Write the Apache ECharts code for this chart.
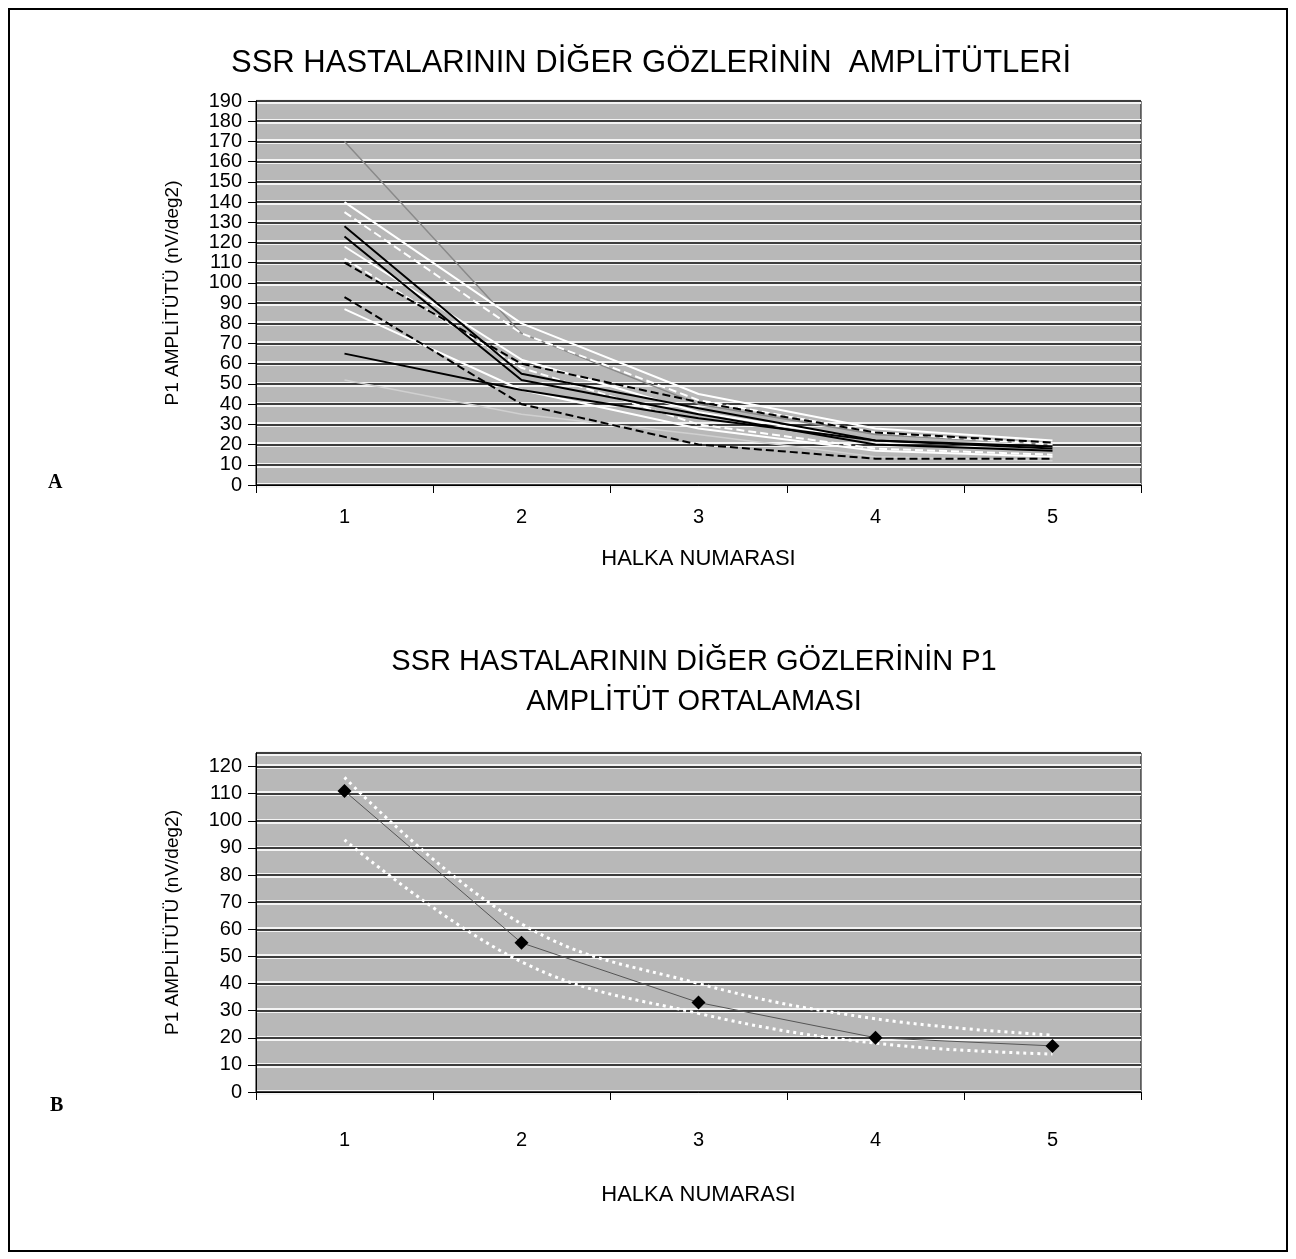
<!DOCTYPE html>
<html>
<head>
<meta charset="utf-8">
<script src="https://cdn.jsdelivr.net/npm/echarts@6/dist/echarts.min.js"></script>
<style>
  html, body { margin: 0; padding: 0; background: #fff; }
  .chart { width: 1296px; height: 1259px; }
</style>
</head>
<body>
<div class="page"><div class="chart"></div></div>
<script>
// halka numaralari (x ekseni)
var rings = ["1", "2", "3", "4", "5"];

// A: her gozun P1 amplitudu
var eyeGrey1 = [170, 75, 40, 25, 20];
var eyeGrey2 = [52, 35, 25, 14, 12];
var eyeWhite1 = [140, 80, 45, 28, 22];
var eyeWhite2 = [135, 75, 42, 26, 20];
var eyeWhite3 = [118, 62, 36, 22, 18];
var eyeWhite4 = [112, 58, 30, 18, 15];
var eyeWhite5 = [87, 47, 28, 17, 14];
var eyeBlack1 = [128, 55, 38, 22, 19];
var eyeBlack2 = [123, 52, 35, 20, 17];
var eyeBlack3 = [110, 60, 41, 26, 21];
var eyeBlack4 = [93, 40, 20, 13, 13];
var eyeBlack5 = [65, 47, 33, 22, 18];

// B: ortalama ve bant
var meanP1 = [111, 55, 33, 20, 17];
var upperBand = [116, 62, 40, 27, 21];
var lowerBand = [93, 48, 29, 18, 14];

(function() {
  var myChart = echarts.init(document.querySelector(".page .chart"));

  var font = "Liberation Sans, Arial, sans-serif";
  var plotBg = "#b8b8b8";

  // eksen ayarlari (iki grafik icin ayni)
  function xAxisFor(gi, labelMargin, nameGap) {
    return {
      type: "category",
      gridIndex: gi,
      data: rings,
      boundaryGap: true,
      name: "HALKA NUMARASI",
      nameLocation: "middle",
      nameGap: nameGap,
      nameTextStyle: { color: "#000", fontSize: 22, fontFamily: font },
      axisLine: { lineStyle: { color: "#000", width: 1 } },
      axisTick: { show: true, length: 8, lineStyle: { color: "#000" } },
      axisLabel: { color: "#000", fontSize: 20, fontFamily: font, margin: labelMargin },
      splitLine: { show: false }
    };
  }
  function yAxisFor(gi, max, labels) {
    return {
      type: "value",
      gridIndex: gi,
      min: 0,
      max: max,
      interval: 10,
      name: labels ? "P1 AMPLİTÜTÜ (nV/deg2)" : "",
      nameLocation: "middle",
      nameGap: 74,
      nameTextStyle: { color: "#000", fontSize: 19, fontFamily: font },
      axisLine: { show: labels, lineStyle: { color: "#000", width: 1 } },
      axisTick: { show: labels, length: 8, lineStyle: { color: "#000" } },
      axisLabel: {
        show: labels, color: "#000", fontSize: 20, lineHeight: 14, fontFamily: font, margin: 14,
        hideOverlap: false, showMinLabel: true, showMaxLabel: max % 10 === 0
      },
      // beyaz kalin cizgi + ustte siyah ince cizgi
      splitLine: labels
        ? { show: true, lineStyle: { color: "#f4f4f4", width: 5 } }
        : { show: true, lineStyle: { color: "#000", width: 1.5 } }
    };
  }

  function line(name, data, color, type, width, xi) {
    return {
      name: name,
      type: "line",
      xAxisIndex: xi,
      yAxisIndex: xi * 2,
      data: data,
      symbol: "none",
      silent: true,
      lineStyle: { color: color, type: type, width: width }
    };
  }

  var option = {
    animation: false,
    backgroundColor: "#fff",
    title: [
      {
        text: "SSR HASTALARININ DİĞER GÖZLERİNİN  AMPLİTÜTLERİ",
        left: 646, top: 43, textAlign: "center",
        textStyle: { color: "#000", fontSize: 31, fontWeight: "normal", fontFamily: font }
      },
      {
        text: "SSR HASTALARININ DİĞER GÖZLERİNİN P1\nAMPLİTÜT ORTALAMASI",
        left: 689, top: 637, textAlign: "center",
        textStyle: { color: "#000", fontSize: 29, fontWeight: "normal", fontFamily: font, lineHeight: 40, align: "center" }
      }
    ],
    grid: [
      { left: 256, right: 155, top: 101, bottom: 774, show: true, backgroundColor: plotBg, borderColor: "#000", borderWidth: 1 },
      { left: 256, right: 155, top: 753, bottom: 167, show: true, backgroundColor: plotBg, borderColor: "#000", borderWidth: 1 }
    ],
    xAxis: [xAxisFor(0, 22, 63), xAxisFor(1, 38, 92)],
    yAxis: [yAxisFor(0, 190, true), yAxisFor(0, 190, false), yAxisFor(1, 125, true), yAxisFor(1, 125, false)],
    graphic: [
      // dis cerceve
      { type: "rect", shape: { x: 9, y: 9, width: 1278, height: 1242 }, style: { fill: null, stroke: "#000", lineWidth: 2 } },
      { type: "text", left: 48, top: 473, style: { text: "A", fill: "#000", font: "bold 20px Liberation Serif, Times New Roman, serif" } },
      { type: "text", left: 50, top: 1096, style: { text: "B", fill: "#000", font: "bold 20px Liberation Serif, Times New Roman, serif" } }
    ],
    series: [
      // A grafigi
      line("g1", eyeGrey1, "#8a8a8a", "solid", 1.5, 0),
      line("g2", eyeGrey2, "#d0d0d0", "solid", 1.5, 0),
      line("w1", eyeWhite1, "#fff", "solid", 2, 0),
      line("w2", eyeWhite2, "#fff", "dashed", 2, 0),
      line("w3", eyeWhite3, "#fff", "solid", 2, 0),
      line("w4", eyeWhite4, "#fff", "dashed", 2, 0),
      line("w5", eyeWhite5, "#fff", "solid", 2, 0),
      line("b1", eyeBlack1, "#000", "solid", 2, 0),
      line("b2", eyeBlack2, "#000", "solid", 2, 0),
      line("b3", eyeBlack3, "#000", "dashed", 2, 0),
      line("b4", eyeBlack4, "#000", "dashed", 2, 0),
      line("b5", eyeBlack5, "#000", "solid", 2, 0),
      // B grafigi: bantlar
      {
        name: "ust", type: "line", xAxisIndex: 1, yAxisIndex: 2, data: upperBand,
        symbol: "none", smooth: 0.4, silent: true,
        lineStyle: { color: "#fff", type: [3, 4], width: 3 }
      },
      {
        name: "alt", type: "line", xAxisIndex: 1, yAxisIndex: 2, data: lowerBand,
        symbol: "none", smooth: 0.4, silent: true,
        lineStyle: { color: "#fff", type: [3, 4], width: 3 }
      },
      // ortalama
      {
        name: "ortalama", type: "line", xAxisIndex: 1, yAxisIndex: 2, data: meanP1,
        symbol: "diamond", symbolSize: 14, silent: true,
        itemStyle: { color: "#000" },
        lineStyle: { color: "#555", width: 1 }
      }
    ]
  };

  myChart.setOption(option);
  window.addEventListener("resize", function() {
    myChart.resize();
  });
})();
</script>
</body>
</html>
